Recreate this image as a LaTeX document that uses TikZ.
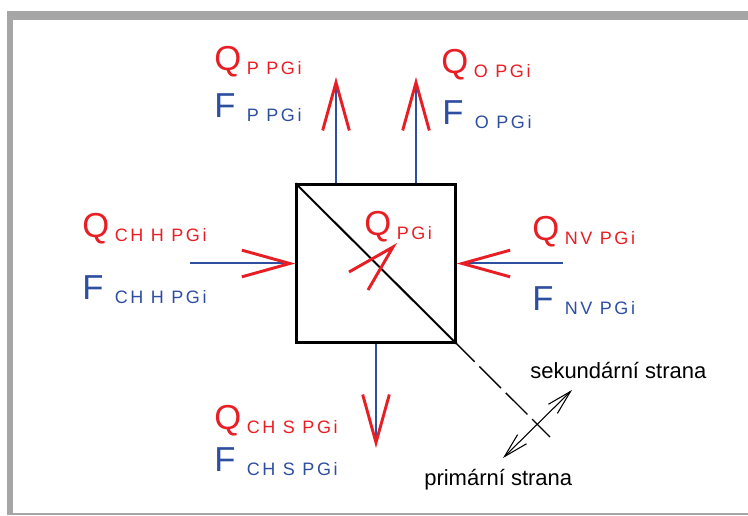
\documentclass[tikz,border=0pt]{standalone}
\usepackage{fontspec}
\setmainfont{Liberation Sans}
\usepackage{xcolor}
\usepackage{tikz}
\usetikzlibrary{arrows.meta,positioning}

\definecolor{qred}{RGB}{232,30,37}
\definecolor{fblue}{RGB}{46,78,160}
\definecolor{framegray}{RGB}{166,166,166}

% big letter with spaced subscript
\newcommand{\qflab}[2]{\makebox[24.5pt][l]{\fontsize{26}{26}\selectfont #1}\raisebox{-3pt}{\fontsize{13.5}{13.5}\selectfont\addfontfeature{LetterSpace=14}#2}}

\begin{document}
\begin{tikzpicture}[
    x=0.75pt, y=-0.75pt,
    pgbox/.style={rectangle, draw=black, line width=2pt, minimum width=119pt, minimum height=118.5pt, inner sep=0pt},
    flow/.style={draw=fblue, line width=1.5pt, -{Straight Barb[length=36pt, width=20pt, line width=2.2pt, color=qred]}},
    qlab/.style={anchor=base west, inner sep=0pt, text=qred},
    flab/.style={anchor=base west, inner sep=0pt, text=fblue},
    sidelab/.style={anchor=base west, inner sep=0pt, font=\fontsize{16.5}{16.5}\selectfont},
    sidedash/.style={draw=black, line width=1pt, dash pattern=on 23pt off 5pt, dash phase=4pt},
    sidearrow/.style={draw=black, line width=0.8pt, {Straight Barb[length=18.5pt, width=9.6pt]}-{Straight Barb[length=18.5pt, width=9.6pt]}}
]
\useasboundingbox (0,0) rectangle (748,516);

% Frame
\fill[framegray] (7,11) rectangle (748,20);
\fill[framegray] (7,11) rectangle (13,514);
\draw[framegray, line width=1pt] (7,514) -- (748,514);

% Nodes
\node[pgbox] (pgi) at (376,263.5) {};
\coordinate (pout) at (336,77);
\coordinate (oout) at (416,77);
\coordinate (chhin) at (190,263.5);
\coordinate (nvin) at (563,263.5);
\coordinate (chsout) at (376,448);
\coordinate (sepend) at (550,437);
\coordinate (primend) at (503,458);
\coordinate (sekend) at (572,390);
\coordinate (qtip) at (393,247);

\node[qlab] (qp) at (214,71) {\qflab{Q}{P PGi}};
\node[flab] (fp) at (214,118) {\qflab{F}{P PGi}};
\node[qlab] (qo) at (441,74) {\qflab{Q}{O PGi}};
\node[flab] (fo) at (442,125) {\qflab{F}{O PGi}};
\node[qlab] (qchh) at (82,238) {\qflab{Q}{CH H PGi}};
\node[flab] (fchh) at (82,299) {\qflab{F}{CH H PGi}};
\node[qlab] (qnv) at (532,241) {\qflab{Q}{NV PGi}};
\node[flab] (fnv) at (532,310) {\qflab{F}{NV PGi}};
\node[qlab] (qchs) at (214,429) {\qflab{Q}{CH S PGi}};
\node[flab] (fchs) at (214,471) {\qflab{F}{CH S PGi}};
\node[qlab] (qpgi) at (364,236) {\qflab{Q}{PGi}};
\node[sidelab] (sek) at (530,378) {sekundární strana};
\node[sidelab] (prim) at (424,485) {primární strana};

% Edges
\draw[line width=1.5pt] (pgi.north west) -- (pgi.south east);
\draw[flow] (pgi.north -| pout) -- (pout);
\draw[flow] (pgi.north -| oout) -- (oout);
\draw[flow] (chhin) -- (pgi.west);
\draw[flow] (nvin) -- (pgi.east);
\draw[flow] (pgi.south -| chsout) -- (chsout);
\draw[sidedash] (pgi.south east) -- (sepend);
\draw[sidearrow] (primend) -- (sekend);
\draw[qred, line width=2.2pt] (qtip) ++(-44,25) -- (qtip) -- ++(-25,43);

\end{tikzpicture}
\end{document}
